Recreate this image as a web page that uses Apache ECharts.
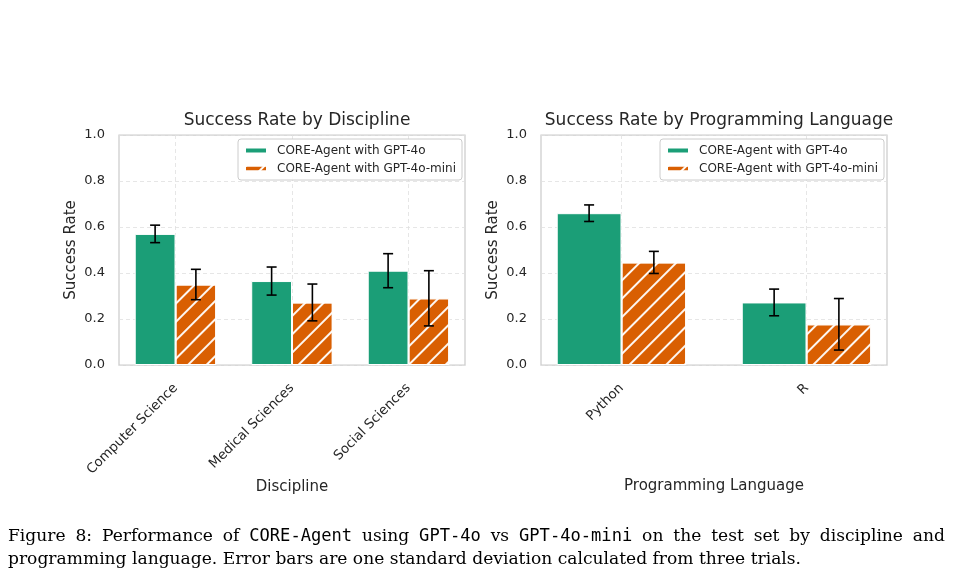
<!DOCTYPE html>
<html><head><meta charset="utf-8">
<script src="https://cdn.jsdelivr.net/npm/echarts@6/dist/echarts.min.js"></script>
<style>
html,body{margin:0;padding:0;background:#fff;}
#chart{position:absolute;left:0;top:0;width:953px;height:579px;}
#cap{position:absolute;left:8px;top:524px;width:937px;font-family:"DejaVu Serif",serif;font-size:17.1px;color:#000;line-height:23px;}
#cap .l1{text-align:justify;text-align-last:justify;white-space:nowrap;}
#cap .mono{font-family:"DejaVu Sans Mono",monospace;}
</style></head>
<body>
<div id="chart"></div>
<div id="cap"><div class="l1">Figure 8: Performance of <span class="mono">CORE-Agent</span> using <span class="mono">GPT-4o</span> vs <span class="mono">GPT-4o-mini</span> on the test set by discipline and</div><div>programming language. Error bars are one standard deviation calculated from three trials.</div></div>
<script>
const disciplines = ['Computer Science', 'Medical Sciences', 'Social Sciences'];
const discGpt4o = [0.57, 0.365, 0.41];
const discGpt4oErr = [0.038, 0.061, 0.074];
const discMini = [0.35, 0.272, 0.29];
const discMiniErr = [0.066, 0.08, 0.12];

const languages = ['Python', 'R'];
const langGpt4o = [0.66, 0.272];
const langGpt4oErr = [0.036, 0.058];
const langMini = [0.446, 0.177];
const langMiniErr = [0.048, 0.112];

const yTicks = [0, 0.2, 0.4, 0.6, 0.8, 1.0];
const NAME_A = 'CORE-Agent with GPT-4o';
const NAME_B = 'CORE-Agent with GPT-4o-mini';
const GREEN = '#1b9e77', ORANGE = '#d95f02';
const TXT = '#262626';
const FONT = 'DejaVu Sans';
const BARW = 0.35;

const grids = [
  {left: 119, top: 135, width: 346, height: 230},
  {left: 541, top: 135, width: 346, height: 230}
];
const xExt = [[-0.485, 2.485], [-0.435, 1.435]];
const cats = [disciplines, languages];
const xNames = ['Discipline', 'Programming Language'];
const titles = ['Success Rate by Discipline', 'Success Rate by Programming Language'];

const chart = echarts.init(document.getElementById('chart'), null, {renderer: 'canvas'});

function renderErr(params, api) {
  const x = api.value(0), y = api.value(1), e = api.value(2);
  const t = api.coord([x, y + e]), b = api.coord([x, y - e]);
  const cap = 5;
  const st = {stroke: '#000', lineWidth: 1.6};
  return {type: 'group', children: [
    {type: 'line', shape: {x1: t[0], y1: t[1], x2: b[0], y2: b[1]}, style: st},
    {type: 'line', shape: {x1: t[0] - cap, y1: t[1], x2: t[0] + cap, y2: t[1]}, style: st},
    {type: 'line', shape: {x1: b[0] - cap, y1: b[1], x2: b[0] + cap, y2: b[1]}, style: st}
  ]};
}

const decal = {
  symbol: 'rect', symbolSize: 1, color: 'rgba(255,255,255,0.95)',
  dashArrayX: [1, 0], dashArrayY: [1.6, 11], rotation: -Math.PI / 4
};

const sets = [
  {a: discGpt4o, ae: discGpt4oErr, b: discMini, be: discMiniErr},
  {a: langGpt4o, ae: langGpt4oErr, b: langMini, be: langMiniErr}
];

const series = [];
sets.forEach((s, gi) => {
  const pxPerUnit = grids[gi].width / (xExt[gi][1] - xExt[gi][0]);
  const bw = BARW * pxPerUnit;
  series.push({
    name: NAME_A, type: 'bar', xAxisIndex: gi, yAxisIndex: gi,
    barWidth: bw, barGap: '0%',
    itemStyle: {color: GREEN, borderColor: '#fff', borderWidth: 1},
    data: s.a.map((v, i) => [i, v]), z: 2
  });
  series.push({
    name: NAME_B, type: 'bar', xAxisIndex: gi, yAxisIndex: gi,
    barWidth: bw, barGap: '0%',
    itemStyle: {color: ORANGE, borderColor: '#fff', borderWidth: 1, decal: decal},
    data: s.b.map((v, i) => [i, v]), z: 2
  });
  series.push({
    type: 'custom', xAxisIndex: gi, yAxisIndex: gi, renderItem: renderErr, z: 5,
    encode: {x: 0, y: 1}, silent: true,
    data: s.a.map((v, i) => [i - BARW / 2, v, s.ae[i]]).concat(s.b.map((v, i) => [i + BARW / 2, v, s.be[i]]))
  });
});

const legendBase = {
  data: [NAME_A, NAME_B], orient: 'vertical', top: 139,
  icon: 'rect', itemWidth: 22, itemHeight: 6, itemGap: 3,
  borderColor: '#cccccc', borderWidth: 1, borderRadius: 3,
  padding: [4, 6, 4, 6], backgroundColor: 'rgba(255,255,255,0.85)',
  textStyle: {fontSize: 12, lineHeight: 15, color: TXT, fontFamily: FONT, padding: [0, 0, 0, 5]}
};

const option = {
  animation: false,
  backgroundColor: '#fff',
  title: titles.map((t, gi) => ({
    text: t, left: grids[gi].left + grids[gi].width / 2, textAlign: 'center', top: 107,
    textStyle: {fontSize: 17, fontWeight: 'normal', color: TXT, fontFamily: FONT}
  })),
  legend: [Object.assign({}, legendBase, {left: 238}), Object.assign({}, legendBase, {left: 660})],
  grid: grids.map(g => Object.assign({show: true, borderColor: '#cccccc', borderWidth: 1.25, backgroundColor: '#fff', containLabel: false}, g)),
  xAxis: [0, 1].map(gi => ({
    type: 'value', gridIndex: gi, min: xExt[gi][0], max: xExt[gi][1],
    name: xNames[gi], nameLocation: 'middle', nameGap: 114,
    nameTextStyle: {fontSize: 15, color: TXT, fontFamily: FONT},
    axisLine: {show: false}, axisTick: {show: false, customValues: cats[gi].map((c, i) => i)},
    axisLabel: {
      customValues: cats[gi].map((c, i) => i), rotate: 45, margin: 21,
      fontSize: 13.3, color: TXT, fontFamily: FONT,
      formatter: v => cats[gi][Math.round(v)]
    },
    splitLine: {show: true, lineStyle: {type: [4, 3], color: '#e0e0e0', width: 0.8}}
  })),
  yAxis: [0, 1].map(gi => ({
    type: 'value', gridIndex: gi, min: 0, max: 1, interval: 0.2,
    name: 'Success Rate', nameLocation: 'middle', nameGap: 40,
    nameTextStyle: {fontSize: 15, color: TXT, fontFamily: FONT},
    axisLine: {show: false}, axisTick: {show: false},
    axisLabel: {fontSize: 13, color: TXT, fontFamily: FONT, margin: 14, formatter: v => v.toFixed(1)},
    splitLine: {show: true, lineStyle: {type: [4, 3], color: '#e0e0e0', width: 0.8}}
  })),
  series: series
};
chart.setOption(option);
</script>
</body></html>
